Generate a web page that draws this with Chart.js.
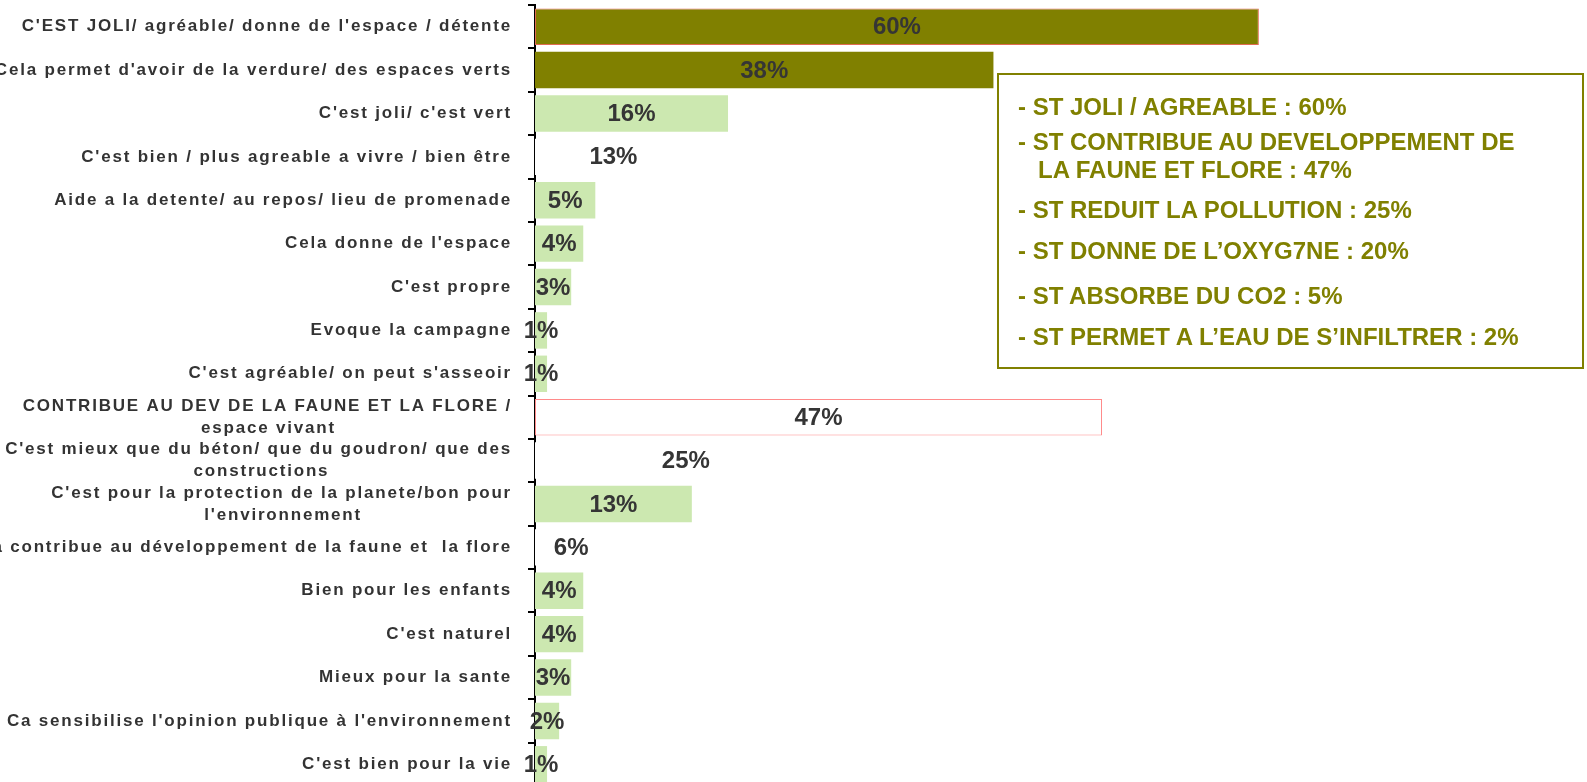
<!DOCTYPE html>
<html>
<head>
<meta charset="utf-8">
<script src="https://cdn.jsdelivr.net/npm/chart.js@4/dist/chart.umd.min.js"></script>
<style>
  html, body { margin: 0; padding: 0; background: #fff; overflow: hidden; }
  #wrap { position: relative; width: 1587px; height: 782px; overflow: hidden; }
  #c { position: absolute; left: 0; top: 0; }
  #box { position: absolute; left: 997px; top: 73px; width: 583px; height: 292px;
         border: 2px solid #808000; box-sizing: content-box; }
  .ln { position: absolute; white-space: nowrap; font-family: "Liberation Sans", Arial, sans-serif;
        font-weight: bold; font-size: 24px; line-height: 28px; color: #808000; }
</style>
</head>
<body>
<div id="wrap">
  <canvas id="c" width="1587" height="786"></canvas>
  <div id="box"></div>
  <div class="ln" style="left:1018px; top:93px;">- ST JOLI / AGREABLE : 60%</div>
  <div class="ln" style="left:1018px; top:128px;">- ST CONTRIBUE AU DEVELOPPEMENT DE</div>
  <div class="ln" style="left:1038px; top:156px;">LA FAUNE ET FLORE : 47%</div>
  <div class="ln" style="left:1018px; top:196px;">- ST REDUIT LA POLLUTION : 25%</div>
  <div class="ln" style="left:1018px; top:237px;">- ST DONNE DE L’OXYG7NE : 20%</div>
  <div class="ln" style="left:1018px; top:282px;">- ST ABSORBE DU CO2 : 5%</div>
  <div class="ln" style="left:1018px; top:323px;">- ST PERMET A L’EAU DE S’INFILTRER : 2%</div>
</div>
<script>
const categories = [
  "C'EST JOLI/ agréable/ donne de l'espace / détente",
  "Cela permet d'avoir de la verdure/ des espaces verts",
  "C'est joli/ c'est vert",
  "C'est bien / plus agreable a vivre / bien être",
  "Aide a la detente/ au repos/ lieu de promenade",
  "Cela donne de l'espace",
  "C'est propre",
  "Evoque la campagne",
  "C'est agréable/ on peut s'asseoir",
  ["CONTRIBUE AU DEV DE LA FAUNE ET LA FLORE /", "espace vivant"],
  ["C'est mieux que du béton/ que du goudron/ que des", "constructions"],
  ["C'est pour la protection de la planete/bon pour", "l'environnement"],
  "Ca contribue au développement de la faune et  la flore",
  "Bien pour les enfants",
  "C'est naturel",
  "Mieux pour la sante",
  "Ca sensibilise l'opinion publique à l'environnement",
  "C'est bien pour la vie"
];
const values = [60, 38, 16, 13, 5, 4, 3, 1, 1, 47, 25, 13, 6, 4, 4, 3, 2, 1];

const OLIVE = '#808000', GREEN = '#cce8b0', WHITE = '#ffffff';
const barColors = [OLIVE, OLIVE, GREEN, WHITE, GREEN, GREEN, GREEN, GREEN, GREEN,
                   WHITE, WHITE, GREEN, WHITE, GREEN, GREEN, GREEN, GREEN, GREEN];
const borderColors = values.map((v, i) => i === 0 ? '#e06a50' : (i === 9 ? '#ff8a8a' : 'rgba(0,0,0,0)'));
const borderWidths = values.map((v, i) => (i === 0 || i === 9) ? 1 : 0);

const LABEL_FONT = 'bold 17px "Liberation Sans", Arial, sans-serif';
const LETTER = '1.8px';
const mctx = document.createElement('canvas').getContext('2d');
mctx.font = LABEL_FONT;
mctx.letterSpacing = LETTER;
function centeredLines(lbl) {
  if (!Array.isArray(lbl)) return lbl;
  const w1 = mctx.measureText(lbl[0]).width;
  const sw = mctx.measureText(' ').width;
  return lbl.map((s, k) => {
    if (k === 0) return s;
    const pad = (w1 - mctx.measureText(s).width) / 2;
    return s + ' '.repeat(Math.max(0, Math.round(pad / sw)));
  });
}

const spacingPlugin = {
  id: 'spacing',
  beforeDraw(chart) { chart.ctx.letterSpacing = LETTER; }
};
const valuePlugin = {
  id: 'values',
  afterDatasetsDraw(chart) {
    const ctx = chart.ctx;
    const meta = chart.getDatasetMeta(0);
    ctx.save();
    ctx.letterSpacing = '0px';
    ctx.font = 'bold 24px "Liberation Sans", Arial, sans-serif';
    ctx.fillStyle = '#353535';
    ctx.textAlign = 'center';
    ctx.textBaseline = 'middle';
    meta.data.forEach((bar, i) => {
      ctx.fillText(values[i] + '%', (bar.base + bar.x) / 2, bar.y + 1);
    });
    ctx.restore();
  }
};

new Chart(document.getElementById('c'), {
  type: 'bar',
  data: {
    labels: categories,
    datasets: [{
      data: values,
      backgroundColor: barColors,
      borderColor: borderColors,
      borderWidth: borderWidths,
      borderSkipped: false,
      barPercentage: 0.84,
      categoryPercentage: 1
    }]
  },
  options: {
    indexAxis: 'y',
    responsive: false,
    animation: false,
    devicePixelRatio: 1,
    layout: { padding: { top: 5, right: 0, bottom: 0, left: 0 } },
    plugins: { legend: { display: false }, tooltip: { enabled: false } },
    scales: {
      x: { display: false, min: 0, max: 87.2 },
      y: {
        afterFit(scale) {
          scale.width = 535;
          scale.paddingTop = 0; scale.paddingBottom = 0;
          scale.paddingLeft = 0; scale.paddingRight = 0;
        },
        border: { display: true, color: '#000', width: 2 },
        grid: { display: true, drawOnChartArea: false, drawTicks: true, tickLength: 7,
                color: '#000', lineWidth: 2, offset: true },
        ticks: {
          autoSkip: false,
          padding: 16,
          color: '#333',
          font: { family: '"Liberation Sans", Arial, sans-serif', size: 17, weight: 'bold', lineHeight: 1.3 },
          callback(value) { return centeredLines(categories[value]); }
        }
      }
    }
  },
  plugins: [spacingPlugin, valuePlugin]
});
</script>
</body>
</html>
